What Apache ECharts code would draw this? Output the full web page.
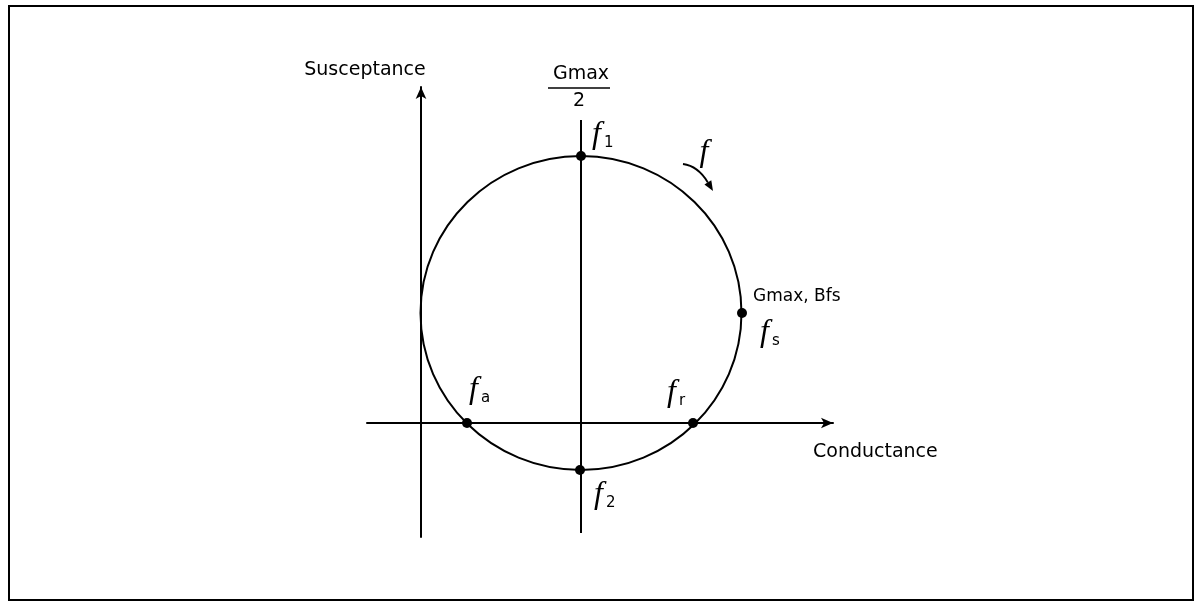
<!DOCTYPE html>
<html>
<head>
<meta charset="utf-8">
<script src="https://cdn.jsdelivr.net/npm/echarts@6/dist/echarts.min.js"></script>
<style>
  html, body { margin: 0; padding: 0; background: #fff; }
  #chart { width: 1199px; height: 605px; }
</style>
</head>
<body>
<div id="chart"></div>
<script>
// admittance circle: centre G, centre B, radius along G, radius along B
var circleG = [160];
var circleB = [110];
var radiusG = [160.5];
var radiusB = [157];

// marked frequencies on the circle
var pointNames = ['1', 's', 'a', 'r', '2'];
var pointG = [160, 321, 46, 272, 159];
var pointB = [267, 110, 0, 0, -47];

// vertical line through Gmax/2
var halfLineG = [160, 160];
var halfLineB = [-110, 303];

// direction of increasing f: start, control, end
var arrowG = [262, 277, 292];
var arrowB = [259, 257, 232];

// label placement per point (dx, dy from the dot)
var labelShift = {
  '1': [11, -21],
  's': [18, 20],
  'a': [2, -33],
  'r': [-26, -30],
  '2': [14, 25]
};

var myChart = echarts.init(document.getElementById('chart'));

var richStyle = {
  f: { fontFamily: 'Liberation Serif', fontStyle: 'italic', fontSize: 32, lineHeight: 32, color: '#000' },
  s: { fontFamily: 'DejaVu Sans', fontSize: 15, lineHeight: 16, verticalAlign: 'bottom', padding: [0, 0, 0, 3], color: '#000' }
};

var pointData = [];
for (var i = 0; i < pointNames.length; i++) {
  var sh = labelShift[pointNames[i]];
  pointData.push({
    name: pointNames[i],
    value: [pointG[i], pointB[i]],
    label: {
      show: true,
      position: [sh[0] + 5, sh[1] + 5],
      align: 'left',
      verticalAlign: 'middle',
      color: '#000',
      fontSize: 32,
      formatter: '{f|f}{s|' + pointNames[i] + '}',
      rich: richStyle
    }
  });
}

var lineData = [];
for (var j = 0; j < halfLineG.length; j++) {
  lineData.push([halfLineG[j], halfLineB[j]]);
}

myChart.setOption({
  backgroundColor: '#fff',
  animation: false,
  grid: { left: 367, right: 366, top: 87, bottom: 68 },
  xAxis: {
    type: 'value',
    min: -54,
    max: 412,
    axisLine: { onZero: true, symbol: ['none', 'arrow'], symbolSize: [8, 12], lineStyle: { color: '#000', width: 2 } },
    axisTick: { show: false },
    axisLabel: { show: false },
    splitLine: { show: false }
  },
  yAxis: {
    type: 'value',
    min: -114,
    max: 336,
    axisLine: { onZero: true, symbol: ['none', 'arrow'], symbolSize: [8, 12], lineStyle: { color: '#000', width: 2 } },
    axisTick: { show: false },
    axisLabel: { show: false },
    splitLine: { show: false }
  },
  series: [
    {
      type: 'custom',
      silent: true,
      clip: false,
      data: [[circleG[0], circleB[0], radiusG[0], radiusB[0]]],
      renderItem: function (params, api) {
        var c = api.coord([api.value(0), api.value(1)]);
        var s = api.size([api.value(2), api.value(3)]);
        return {
          type: 'ellipse',
          shape: { cx: c[0], cy: c[1], rx: s[0], ry: s[1] },
          style: { fill: 'none', stroke: '#000', lineWidth: 2 }
        };
      }
    },
    {
      // curved arrow showing the sweep direction
      type: 'custom',
      silent: true,
      clip: false,
      data: [[arrowG[0], arrowB[0], arrowG[1], arrowB[1], arrowG[2], arrowB[2]]],
      renderItem: function (params, api) {
        var p1 = api.coord([api.value(0), api.value(1)]);
        var cp = api.coord([api.value(2), api.value(3)]);
        var p2 = api.coord([api.value(4), api.value(5)]);
        var dx = p2[0] - cp[0], dy = p2[1] - cp[1];
        var len = Math.sqrt(dx * dx + dy * dy);
        var ux = dx / len, uy = dy / len;
        var hl = 10, hw = 4;
        var bx = p2[0] - ux * hl, by = p2[1] - uy * hl;
        return {
          type: 'group',
          children: [
            {
              type: 'bezierCurve',
              shape: { x1: p1[0], y1: p1[1], cpx1: cp[0], cpy1: cp[1], x2: bx, y2: by },
              style: { fill: 'none', stroke: '#000', lineWidth: 1.8 }
            },
            {
              type: 'polygon',
              shape: { points: [[p2[0], p2[1]], [bx - uy * hw, by + ux * hw], [bx + uy * hw, by - ux * hw]] },
              style: { fill: '#000' }
            }
          ]
        };
      }
    },
    {
      type: 'line',
      silent: true,
      symbol: 'none',
      lineStyle: { color: '#000', width: 2 },
      data: lineData
    },
    {
      type: 'scatter',
      silent: true,
      symbolSize: 10,
      itemStyle: { color: '#000', opacity: 1 },
      data: pointData
    }
  ],
  graphic: [
    { type: 'rect', shape: { x: 9, y: 6, width: 1184, height: 594 }, style: { fill: 'none', stroke: '#000', lineWidth: 2 }, silent: true },
    { type: 'text', x: 365, y: 70, style: { text: 'Susceptance', font: '19px "DejaVu Sans"', fill: '#000', align: 'center', verticalAlign: 'middle' } },
    { type: 'text', x: 813, y: 452, style: { text: 'Conductance', font: '19px "DejaVu Sans"', fill: '#000', align: 'left', verticalAlign: 'middle' } },
    { type: 'text', x: 581, y: 74, style: { text: 'Gmax', font: '19px "DejaVu Sans"', fill: '#000', align: 'center', verticalAlign: 'middle' } },
    { type: 'line', shape: { x1: 548, y1: 88, x2: 610, y2: 88 }, style: { stroke: '#000', lineWidth: 1.5 } },
    { type: 'text', x: 579, y: 101, style: { text: '2', font: '19px "DejaVu Sans"', fill: '#000', align: 'center', verticalAlign: 'middle' } },
    { type: 'text', x: 753, y: 297, style: { text: 'Gmax, Bfs', font: '17px "DejaVu Sans"', fill: '#000', align: 'left', verticalAlign: 'middle' } },
    { type: 'text', x: 704, y: 153, style: { text: 'f', font: 'italic 32px "Liberation Serif"', fill: '#000', align: 'center', verticalAlign: 'middle' } }
  ]
});
</script>
</body>
</html>
